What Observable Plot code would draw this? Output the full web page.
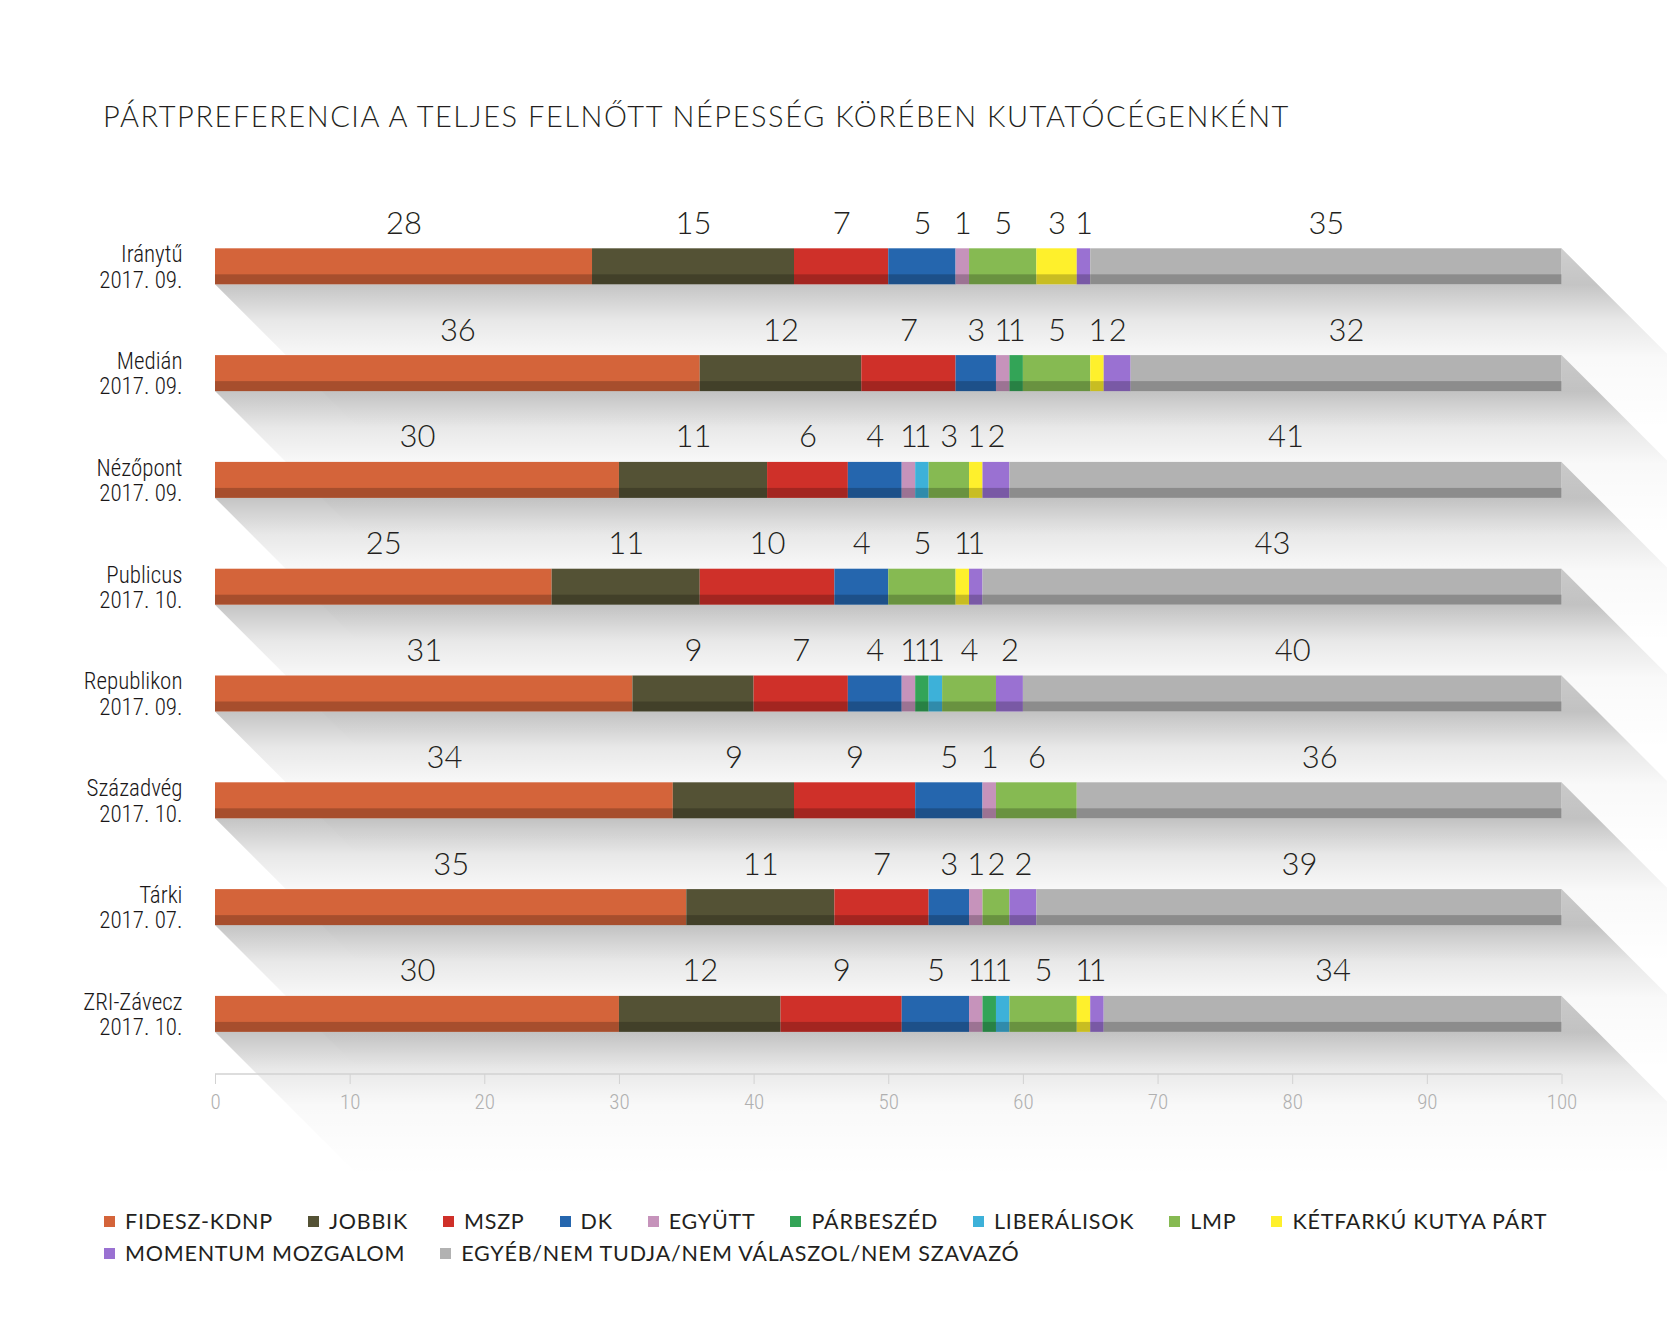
<!DOCTYPE html>
<html><head><meta charset="utf-8">
<script src="https://cdn.jsdelivr.net/npm/d3@7"></script>
<script src="https://cdn.jsdelivr.net/npm/@observablehq/plot@0.6"></script>
<style>
body{margin:0;background:#fff;}
#wrap{position:relative;width:1667px;height:1326px;overflow:hidden;background:#fff;}
#title{position:absolute;left:103px;top:101px;font-family:Lato,"Open Sans",sans-serif;font-weight:300;font-size:29px;line-height:29px;color:#231f20;white-space:nowrap;letter-spacing:1.55px;}
#chart{position:absolute;left:0;top:160px;}
#chart text.cond, #chart g.cond text{font-stretch:condensed;}
#legend{position:absolute;left:104px;top:1205px;width:1530px;display:flex;flex-wrap:wrap;column-gap:35px;font-family:Lato,"Open Sans",sans-serif;font-weight:400;font-size:21.5px;letter-spacing:0.78px;line-height:32px;color:#231f20;}
.item{display:flex;align-items:center;white-space:nowrap;}
.sw{width:11px;height:11px;margin-right:10px;flex:none;}
</style></head>
<body><div id="wrap"><div id="title"></div><div id="chart"></div><div id="legend"></div></div>
<script>
const titleText = "PÁRTPREFERENCIA A TELJES FELNŐTT NÉPESSÉG KÖRÉBEN KUTATÓCÉGENKÉNT";
const pollsters = ["Iránytű","Medián","Nézőpont","Publicus","Republikon","Századvég","Tárki","ZRI-Závecz"];
const dates = ["2017. 09.","2017. 09.","2017. 09.","2017. 10.","2017. 09.","2017. 10.","2017. 07.","2017. 10."];
const parties = ["FIDESZ-KDNP","JOBBIK","MSZP","DK","EGYÜTT","PÁRBESZÉD","LIBERÁLISOK","LMP","KÉTFARKÚ KUTYA PÁRT","MOMENTUM MOZGALOM","EGYÉB/NEM TUDJA/NEM VÁLASZOL/NEM SZAVAZÓ"];
const fidesz      = [28,36,30,25,31,34,35,30];
const jobbik      = [15,12,11,11, 9, 9,11,12];
const mszp        = [ 7, 7, 6,10, 7, 9, 7, 9];
const dk          = [ 5, 3, 4, 4, 4, 5, 3, 5];
const egyutt      = [ 1, 1, 1, 0, 1, 1, 1, 1];
const parbeszed   = [ 0, 1, 0, 0, 1, 0, 0, 1];
const liberalisok = [ 0, 0, 1, 0, 1, 0, 0, 1];
const lmp         = [ 5, 5, 3, 5, 4, 6, 2, 5];
const ketfarku    = [ 3, 1, 1, 1, 0, 0, 0, 1];
const momentum    = [ 1, 2, 2, 1, 2, 0, 2, 1];
const egyeb       = [35,32,41,43,40,36,39,34];
const xTicks = [0,10,20,30,40,50,60,70,80,90,100];
const partyColors = ["#d4643a","#545235","#cf3029","#2566ae","#c693bb","#33a457","#3db1d9","#86ba52","#fef02c","#9a71d2","#b2b2b2"];

const series = [fidesz,jobbik,mszp,dk,egyutt,parbeszed,liberalisok,lmp,ketfarku,momentum,egyeb];
const tidy = [];
pollsters.forEach((p,i)=>parties.forEach((party,j)=>tidy.push({pollster:p, party, value:series[j][i]})));
const totals = pollsters.map((p,i)=>d3.sum(series, s=>s[i]));

document.getElementById("title").textContent = titleText;

const condFont = "'Liberation Sans Narrow','Roboto Condensed','DejaVu Sans Condensed','DejaVu Sans',sans-serif";

function shadows(index, scales, values, dimensions) {
  const x = scales.x, y = scales.y;
  const bw = y.bandwidth ? y.bandwidth() : 36;
  const d = 145;
  const g = d3.create("svg:g");
  const grad = g.append("defs").append("linearGradient").attr("id","shadowGrad")
    .attr("x1",0).attr("y1",0).attr("x2",0).attr("y2",1);
  [[0,0.19],[0.2,0.23],[0.4,0.09],[0.6,0.025],[1,0]].forEach(([o,a])=>
    grad.append("stop").attr("offset",o).attr("stop-color","#000").attr("stop-opacity",a));
  pollsters.forEach((p,i)=>{
    const yT = y(p), yB = yT + bw, xL = x(0), xR = x(totals[i]);
    g.append("path")
      .attr("d",`M${xL},${yB}L${xR},${yB}L${xR},${yT}L${xR+d},${yT+d}L${xR+d},${yB+d}L${xL+d},${yB+d}Z`)
      .attr("fill","url(#shadowGrad)");
  });
  return g.node();
}
function baseline(index, scales, values, dimensions) {
  const x = scales.x;
  const yb = dimensions.height - dimensions.marginBottom;
  const g = d3.create("svg:g");
  g.append("line").attr("x1",x(xTicks[0])).attr("x2",x(xTicks[xTicks.length-1]))
    .attr("y1",yb).attr("y2",yb).attr("stroke","#d2d2d2").attr("stroke-width",1.5);
  return g.node();
}

const chart = Plot.plot({
  width: 1667, height: 1030,
  marginLeft: 215, marginRight: 105.5, marginTop: 0, marginBottom: 116,
  x: {domain: [xTicks[0], xTicks[xTicks.length-1]], axis: null},
  y: {domain: pollsters, range: [17.5, 942.7], padding: 0.663, round: false, axis: null},
  color: {domain: parties, range: partyColors},
  style: {background: "transparent", overflow: "visible"},
  marks: [
    shadows,
    Plot.barX(tidy, Plot.stackX({x:"value", y:"pollster", fill:"party"})),
    Plot.barX(tidy, Plot.stackX({x:"value", y:"pollster", fill:"#000", fillOpacity:0.21, insetTop:26})),
    Plot.text(tidy.filter(d=>d.value>0), Plot.stackX({x:"value", y:"pollster", text:"value", dy:-43,
      fontSize:31, fontWeight:300, fill:"#231f20", fontFamily:"Lato,'Open Sans',sans-serif"})),
    Plot.text(pollsters, {y:d=>d, text:(d,i)=>d+"\n"+dates[i], frameAnchor:"left", textAnchor:"end",
      dx:-33, fontSize:23, fontWeight:300, lineHeight:1.1, fill:"#1a1718", fontFamily:condFont, className:"cond"}),
    baseline,
    Plot.axisX({ticks: xTicks, tickSize: 10, tickPadding: 10, stroke:"#d2d2d2", fill:"#b0b0b0",
      fontSize: 21, fontWeight: 300, fontFamily: condFont, tickFormat: d=>String(d), label: null, className:"cond"})
  ]
});
document.getElementById("chart").appendChild(chart);

const legend = d3.select("#legend");
parties.forEach((p,i)=>{
  const it = legend.append("div").attr("class","item");
  it.append("div").attr("class","sw").style("background",partyColors[i]);
  it.append("span").text(p);
});
</script>
</body></html>
